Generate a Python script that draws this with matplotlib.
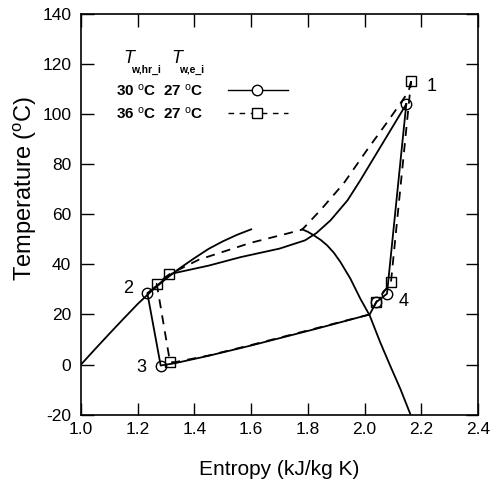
import numpy as np
import matplotlib
matplotlib.use("Agg")
import matplotlib.pyplot as plt

plt.rcParams["font.family"] = ["Liberation Sans", "DejaVu Sans"]
plt.rcParams["mathtext.fontset"] = "custom"
plt.rcParams["mathtext.rm"] = "Liberation Sans"
plt.rcParams["mathtext.it"] = "Liberation Sans:italic"
plt.rcParams["mathtext.bf"] = "Liberation Sans:bold"
plt.rcParams["axes.unicode_minus"] = False

# saturation dome
liq_s = [1.0, 1.05, 1.1, 1.15, 1.2, 1.25, 1.30, 1.35, 1.40, 1.45, 1.50, 1.55, 1.60]
liq_t = [0.0, 6.2, 12.3, 18.3, 24.2, 29.5, 34.3, 38.6, 42.5, 46.2, 49.2, 51.8, 54.0]
vap_s = [1.780, 1.800, 1.821, 1.845, 1.868, 1.892, 1.915, 1.950, 1.985, 2.018,
         2.055, 2.090, 2.126, 2.161]
vap_t = [54.0, 53.0, 51.6, 49.8, 47.6, 44.6, 40.9, 34.3, 26.3, 19.6,
         8.9, -0.4, -9.7, -19.7]

# cycle A: T_w,hr_i = 30 C (solid, circles)
a_s = [2.147, 1.985, 1.94, 1.88, 1.83, 1.79, 1.70, 1.563, 1.45, 1.32, 1.234,
       1.281, 1.334, 1.45, 1.60, 1.83, 2.018, 2.041, 2.079, 2.147]
a_t = [104.0, 73.6, 65.6, 57.6, 52.5, 49.6, 46.3, 42.9, 39.5, 36.3, 28.5,
       -0.4, 0.6, 3.5, 7.6, 14.3, 20.0, 24.9, 28.3, 104.0]
a_mark_s = [2.147, 1.234, 1.281, 2.041, 2.079]
a_mark_t = [104.0, 28.5, -0.4, 24.9, 28.3]

# cycle B: T_w,hr_i = 36 C (dashed, squares)
b_s = [2.164, 2.155, 2.085, 2.008, 1.926, 1.844, 1.78, 1.727, 1.598, 1.416,
       1.311, 1.267, 1.314, 1.334, 1.45, 1.60, 1.83, 2.018, 2.041, 2.093, 2.164]
b_t = [113.2, 109.0, 97.6, 85.6, 72.3, 61.6, 53.9, 52.3, 48.6, 41.9,
       36.0, 32.3, 0.9, 1.0, 3.6, 7.8, 14.5, 20.0, 24.9, 32.9, 113.2]
b_mark_s = [2.164, 1.311, 1.267, 1.314, 2.041, 2.093]
b_mark_t = [113.2, 36.0, 32.3, 0.9, 24.9, 32.9]

state_labels = ["1", "2", "3", "4"]
state_s = [2.235, 1.165, 1.212, 2.137]
state_t = [111.0, 30.5, -1.0, 25.2]

legend_heads = ["w,hr_i", "w,e_i"]
legend_rows = [r"30 $^{\rm o}$C  27 $^{\rm o}$C", r"36 $^{\rm o}$C  27 $^{\rm o}$C"]

fig = plt.figure(figsize=(4.93, 4.83), dpi=100)
ax = fig.add_axes([0.1643, 0.1416, 0.8053, 0.8294])

ax.plot(liq_s, liq_t, color="black", lw=1.3)
ax.plot(vap_s, vap_t, color="black", lw=1.3)

ax.plot(a_s, a_t, color="black", lw=1.3)
ax.plot(b_s, b_t, color="black", lw=1.3, ls=(0, (5, 4)))
ax.plot(a_mark_s, a_mark_t, ls="none", marker="o", ms=7.5, mfc="none",
        mec="black", mew=1.0)
ax.plot(b_mark_s, b_mark_t, ls="none", marker="s", ms=7.5, mfc="none",
        mec="black", mew=1.0)

for lab, s, t in zip(state_labels, state_s, state_t):
    ax.text(s, t, lab, fontsize=13, ha="center", va="center")

# hand-made legend: italic T with small bold subscript
for s0, sub in zip([1.148, 1.317], legend_heads):
    ax.text(s0, 122.4, "T", fontsize=13, fontstyle="italic", ha="left", va="center")
    ax.text(s0 + 0.027, 117.8, sub, fontsize=7.5, fontweight="bold",
            ha="left", va="center")
ax.text(1.125, 109.5, legend_rows[0], fontsize=11, fontweight="bold",
        ha="left", va="center")
ax.text(1.125, 100.3, legend_rows[1], fontsize=11, fontweight="bold",
        ha="left", va="center")
ax.plot([1.52, 1.73], [109.5, 109.5], color="black", lw=1.0)
ax.plot([1.62], [109.5], ls="none", marker="o", ms=7.5, mfc="white",
        mec="black", mew=1.0)
ax.plot([1.52, 1.73], [100.3, 100.3], color="black", lw=1.0, ls=(0, (4, 4)))
ax.plot([1.62], [100.3], ls="none", marker="s", ms=7, mfc="white",
        mec="black", mew=1.0)

ax.set_xlim(1.0, 2.4)
ax.set_ylim(-20, 140)
ax.set_xticks(np.arange(1.0, 2.41, 0.2))
ax.set_yticks(np.arange(-20, 141, 20))
ax.set_xticklabels(["%.1f" % v for v in np.arange(1.0, 2.41, 0.2)])
ax.tick_params(direction="in", top=True, right=True, length=9, width=1.0,
               labelsize=12.5)
ax.tick_params(axis="x", pad=5)
ax.tick_params(axis="y", pad=7)
for sp in ax.spines.values():
    sp.set_linewidth(1.2)

ax.set_xlabel("Entropy (kJ/kg K)", fontsize=15)
ax.set_ylabel(r"Temperature ($^{\rm o}$C)", fontsize=17)
ax.xaxis.set_label_coords(0.5, -0.113)
ax.yaxis.set_label_coords(-0.105, 0.566)

fig.savefig("out.png", dpi=100)
